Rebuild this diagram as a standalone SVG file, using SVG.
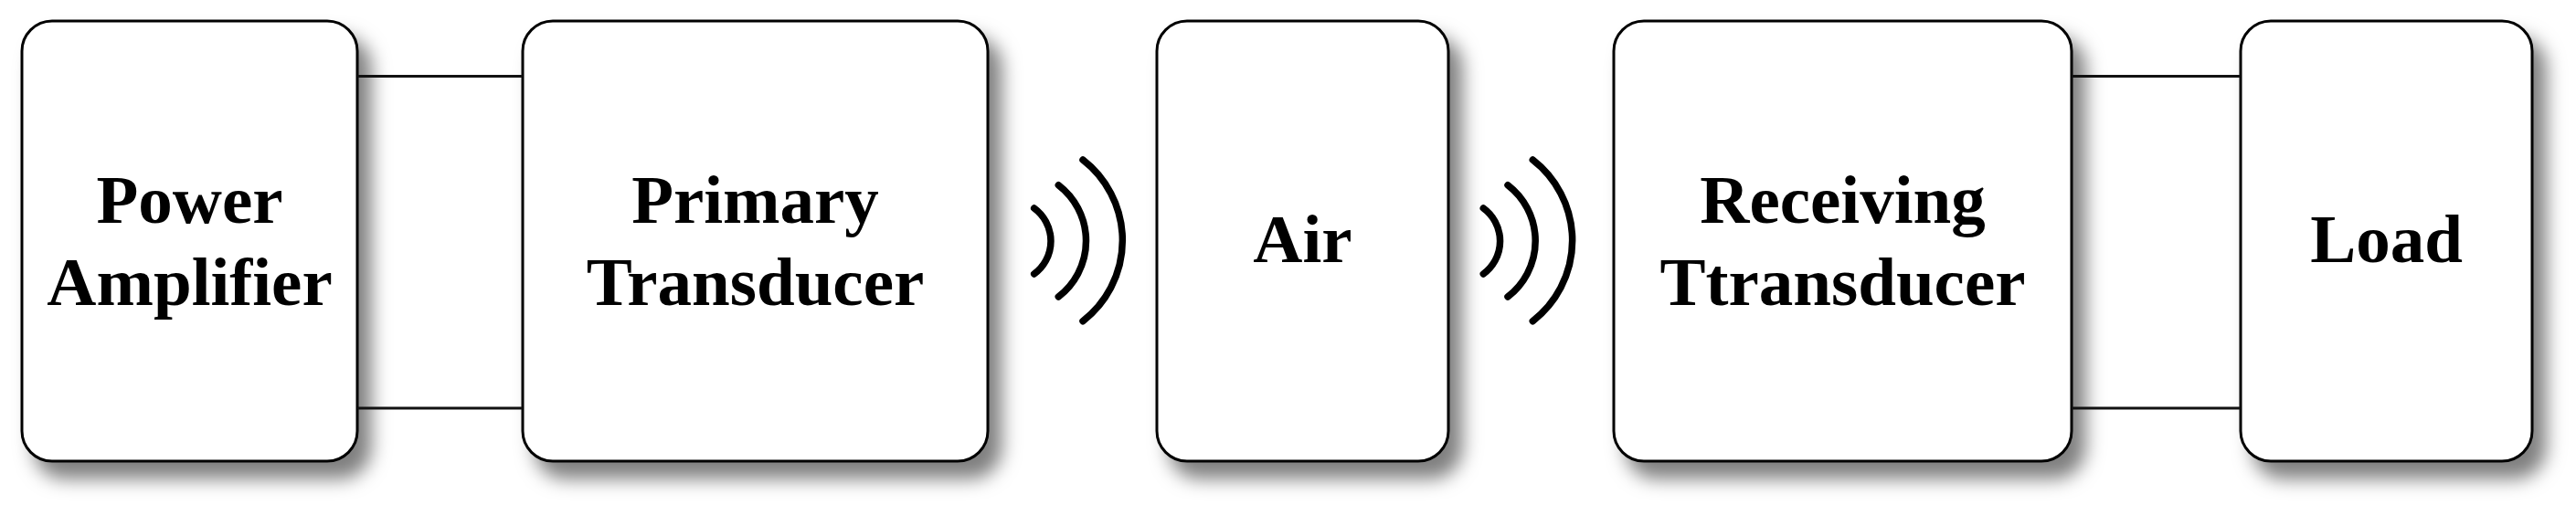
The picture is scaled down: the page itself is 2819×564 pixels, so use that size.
<svg xmlns="http://www.w3.org/2000/svg" width="2819" height="564" viewBox="0 0 2819 564">
<style>
.box{fill:#fff;stroke:#000;stroke-width:3;filter:url(#sh)}
.lbl{font-family:"Liberation Serif","Times New Roman",serif;font-weight:bold;font-size:75px;fill:#000;text-anchor:middle}
.wire{stroke:#111;stroke-width:3;fill:none}
.wave{stroke:#000;stroke-width:7.5;fill:none;stroke-linecap:round}
</style>
<defs>
<filter id="sh" x="-15%" y="-15%" width="140%" height="140%">
<feDropShadow dx="14" dy="18" stdDeviation="10" flood-color="#000" flood-opacity="0.5"/>
</filter>
</defs>
<rect width="2819" height="564" fill="#fff"/>
<g id="power-amplifier">
<rect class="box" x="24" y="23" width="367" height="482" rx="33" ry="33"/>
<text class="lbl" x="207.5" y="244">Power</text>
<text class="lbl" x="207.5" y="334">Amplifier</text>
</g>
<g id="primary-transducer">
<rect class="box" x="572" y="23" width="509" height="482" rx="33" ry="33"/>
<text class="lbl" x="826.5" y="244">Primary</text>
<text class="lbl" x="826.5" y="334">Transducer</text>
</g>
<g id="air">
<rect class="box" x="1266" y="23" width="319" height="482" rx="33" ry="33"/>
<text class="lbl" x="1425.5" y="287">Air</text>
</g>
<g id="receiving-transducer">
<rect class="box" x="1766" y="23" width="501" height="482" rx="33" ry="33"/>
<text class="lbl" x="2016.5" y="244">Receiving</text>
<text class="lbl" x="2016.5" y="334">Ttransducer</text>
</g>
<g id="load">
<rect class="box" x="2452" y="23" width="319" height="482" rx="33" ry="33"/>
<text class="lbl" x="2611.5" y="287">Load</text>
</g>
<g id="connectors">
<line class="wire" x1="391" y1="83.5" x2="572" y2="83.5"/>
<line class="wire" x1="391" y1="447" x2="572" y2="447"/>
<line class="wire" x1="2267" y1="83.5" x2="2452" y2="83.5"/>
<line class="wire" x1="2267" y1="447" x2="2452" y2="447"/>
<g id="waves-1">
<path class="wave" d="M1131.7 228 A44.6 44.6 0 0 1 1131.7 300"/>
<path class="wave" d="M1158.3 202.7 A77 77 0 0 1 1158.3 325"/>
<path class="wave" d="M1185 175 A111.7 111.7 0 0 1 1185 351.7"/>
</g>
<g id="waves-2">
<path class="wave" d="M1623.3 228 A44.6 44.6 0 0 1 1623.3 300"/>
<path class="wave" d="M1650 202.7 A77 77 0 0 1 1650 325"/>
<path class="wave" d="M1677.3 175 A111.7 111.7 0 0 1 1677.3 351.7"/>
</g>
</g>
</svg>
